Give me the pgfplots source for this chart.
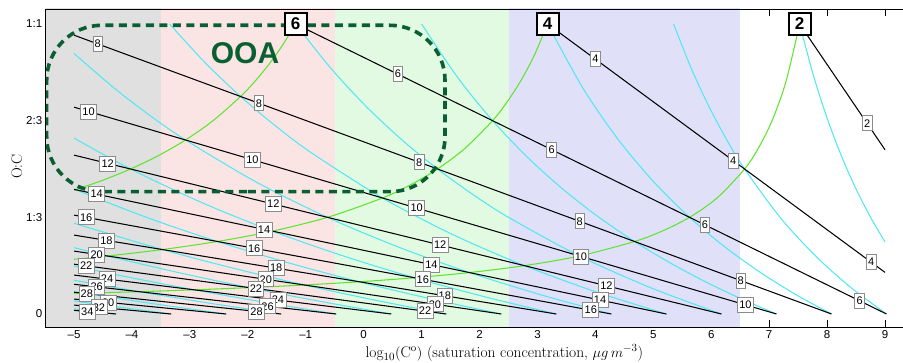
\documentclass[border=0pt]{standalone}
\usepackage{pgfplots}
\pgfplotsset{compat=1.18}
\usepackage{fontspec}
\newfontfamily\helv{Liberation Sans}
\definecolor{bgray}{RGB}{224,224,224}
\definecolor{bpink}{RGB}{250,228,228}
\definecolor{bgreen}{RGB}{226,250,226}
\definecolor{bblue}{RGB}{224,224,248}
\definecolor{cyanl}{RGB}{80,232,242}
\definecolor{greenl}{RGB}{95,228,45}
\definecolor{ooa}{RGB}{10,95,50}
\begin{document}
\begin{tikzpicture}
\begin{axis}[
  at={(0,0)}, anchor=south west,
  scale only axis, width=857.3pt, height=318.3pt,
  xmin=-5.489, xmax=9.31, ymin=-0.0459, ymax=1.0517,
  axis line style={draw=none},
  xtick={-5,-4,-3,-2,-1,0,1,2,3,4,5,6,7,8,9},
  xticklabels={–5,–4,–3,–2,–1,0,1,2,3,4,5,6,7,8,9},
  ytick={0,0.33333,0.66667,1},
  yticklabels={0,1:3,2:3,1:1},
  xtick pos=both, ytick pos=left,
  tick align=inside,
  major tick length=7pt,
  tick style={black, line width=0.8pt},
  ticklabel style={font=\helv\fontsize{11.5}{13}\selectfont},
  xlabel={$\log_{10}(\mathrm{C}^{\mathrm{o}})$ (saturation concentration, $\mu g\, m^{-3}$)},
  xlabel style={at={(axis description cs:0.535,-0.0933)}, anchor=base, font=\fontsize{15.5}{18}\selectfont},
  ylabel={O:C},
  ylabel style={at={(axis description cs:-0.0338,0.505)}, anchor=center, font=\fontsize{15}{18}\selectfont},
]
% background bands
\addplot[fill=bgray, draw=none] coordinates {(-6,-0.1) (-3.5,-0.1) (-3.5,1.1) (-6,1.1)} -- cycle;
\addplot[fill=bpink, draw=none] coordinates {(-3.5,-0.1) (-0.5,-0.1) (-0.5,1.1) (-3.5,1.1)} -- cycle;
\addplot[fill=bgreen, draw=none] coordinates {(-0.5,-0.1) (2.5,-0.1) (2.5,1.1) (-0.5,1.1)} -- cycle;
\addplot[fill=bblue, draw=none] coordinates {(2.5,-0.1) (6.5,-0.1) (6.5,1.1) (2.5,1.1)} -- cycle;

% cyan: constant nC+nO
\pgfplotsset{cy/.style={cyanl, line width=1.05pt, smooth}}
\addplot[cy] coordinates {(7.525,1) (7.77,0.8182) (8.015,0.6667) (8.26,0.5385) (8.505,0.4286) (8.75,0.3333) (9.0,0.2484)};
\addplot[cy] coordinates {(5.35,1) (5.656,0.8462) (5.963,0.7143) (6.269,0.6) (6.575,0.5) (7.188,0.3333) (7.8,0.2) (8.413,0.0909) (9.025,0)};
\addplot[cy] coordinates {(3.175,1) (3.7875,0.7778) (4.4,0.6) (5.0125,0.4545) (5.625,0.3333) (6.2375,0.2308) (6.85,0.1429) (7.4625,0.0667) (8.075,0)};
\addplot[cy] coordinates {(1.0,1) (1.6125,0.8182) (2.225,0.6667) (2.8375,0.5385) (3.45,0.4286) (4.0625,0.3333) (4.675,0.25) (5.2875,0.1765) (5.9,0.1111) (6.5125,0.0526) (7.125,0)};
\addplot[cy] coordinates {(-1.175,1) (-0.5625,0.8462) (0.05,0.7143) (0.6625,0.6) (1.275,0.5) (1.8875,0.4118) (2.5,0.3333) (3.725,0.2) (4.95,0.0909) (6.175,0)};
\addplot[cy] coordinates {(-3.35,1) (-2.7375,0.8667) (-2.125,0.75) (-1.5125,0.6471) (-0.9,0.5556) (0.325,0.4) (1.55,0.2727) (2.775,0.1667) (4.0,0.0769) (5.225,0)};
\addplot[cy] coordinates {(-5,0.8983) (-4.3,0.7778) (-3.6875,0.6842) (-3.075,0.6) (-1.85,0.4545) (-0.625,0.3333) (0.6,0.2308) (1.825,0.1429) (3.05,0.0667) (4.275,0)};
\addplot[cy] coordinates {(-5,0.6066) (-4.025,0.5) (-2.8,0.3846) (-1.575,0.2857) (-0.35,0.2) (0.875,0.125) (2.1,0.0588) (3.325,0)};
\addplot[cy] coordinates {(-5,0.4306) (-3.75,0.3333) (-2.525,0.25) (-1.3,0.1765) (-0.075,0.1111) (1.15,0.0526) (2.375,0)};
\addplot[cy] coordinates {(-5,0.3130) (-3.475,0.2222) (-2.25,0.1579) (-1.025,0.1) (0.2,0.0476) (1.425,0)};
\addplot[cy] coordinates {(-5,0.2288) (-4.425,0.2) (-3.2,0.1429) (-1.975,0.0909) (-0.75,0.0435) (0.475,0)};
\addplot[cy] coordinates {(-5,0.1656) (-4.15,0.1304) (-2.925,0.0833) (-1.7,0.04) (-0.475,0)};
\addplot[cy] coordinates {(-5,0.1163) (-3.875,0.0769) (-2.65,0.0370) (-1.425,0)};
\addplot[cy] coordinates {(-5,0.0769) (-4.825,0.0714) (-3.6,0.0345) (-2.375,0)};
\addplot[cy] coordinates {(-5,0.0446) (-4.55,0.0323) (-3.325,0)};
\addplot[cy] coordinates {(-5,0.0177) (-4.642,0.0089) (-4.275,0)};

% green: constant nO
\pgfplotsset{gr/.style={greenl, line width=1.05pt, smooth}}
\addplot[gr] coordinates {(7.525,1) (7.2875,0.8) (7.05,0.6667) (6.8125,0.5714) (6.575,0.5) (6.1,0.4) (5.625,0.3333) (5.15,0.2857) (4.675,0.25) (3.725,0.2) (2.775,0.1667) (1.825,0.1429) (0.875,0.125) (-0.075,0.1111) (-1.025,0.1) (-1.975,0.0909) (-2.925,0.0833) (-3.875,0.0769) (-5,0.0705)};
\addplot[gr] coordinates {(3.175,1) (2.9375,0.8889) (2.7,0.8) (2.4625,0.7273) (2.225,0.6667) (1.75,0.5714) (1.275,0.5) (0.8,0.4444) (0.325,0.4) (-0.625,0.3333) (-1.575,0.2857) (-2.525,0.25) (-3.475,0.2222) (-4.425,0.2) (-5,0.1886)};
\addplot[gr] coordinates {(-1.175,1) (-1.4125,0.9231) (-1.65,0.8571) (-1.8875,0.8) (-2.125,0.75) (-2.6,0.6667) (-3.075,0.6) (-3.55,0.5455) (-4.025,0.5) (-4.5,0.4615) (-5,0.4270)};

% black: constant nC
\pgfplotsset{bk/.style={black, line width=1.05pt}}
\addplot[bk] coordinates {(7.525,1) (9,0.5662)};
\addplot[bk] coordinates {(3.175,1) (9,0.1434)};
\addplot[bk] coordinates {(-1.175,1) (9.025,0)};
\addplot[bk] coordinates {(-5,0.9614) (8.075,0)};
\addplot[bk] coordinates {(-5,0.7132) (7.125,0)};
\addplot[bk] coordinates {(-5,0.5478) (6.175,0)};
\addplot[bk] coordinates {(-5,0.4296) (5.225,0)};
\addplot[bk] coordinates {(-5,0.3410) (4.275,0)};
\addplot[bk] coordinates {(-5,0.2721) (3.325,0)};
\addplot[bk] coordinates {(-5,0.2169) (2.375,0)};
\addplot[bk] coordinates {(-5,0.1718) (1.425,0)};
\addplot[bk] coordinates {(-5,0.1342) (0.475,0)};
\addplot[bk] coordinates {(-5,0.1024) (-0.475,0)};
\addplot[bk] coordinates {(-5,0.0751) (-1.425,0)};
\addplot[bk] coordinates {(-5,0.0515) (-2.375,0)};
\addplot[bk] coordinates {(-5,0.0308) (-3.325,0)};
\addplot[bk] coordinates {(-5,0.0125) (-4.275,0)};

% OOA region
\addplot[ooa, line width=3.6pt, dash pattern=on 8pt off 5.5pt, rounded corners=55pt] coordinates {(-2,0.4217) (1.404,0.4217) (1.404,0.9955) (-5.472,0.9955) (-5.472,0.4217) (-1.9,0.4217)};
\node[font=\helv\bfseries\fontsize{30}{30}\selectfont, text=ooa] at (axis cs:-2.048,0.898) {OOA};

% small labels
\addplot[draw=none, mark=none, nodes near coords, point meta=explicit symbolic,
  nodes near coords style={anchor=center, text=black, draw=black!45, line width=0.7pt, fill=white,
    font=\helv\fontsize{11}{12}\selectfont, inner xsep=1.8pt, inner ysep=0pt, minimum height=15pt}]
 table[meta=l] {
x y l
-4.59 0.9312 8
-4.75 0.6985 10
-4.42 0.5194 12
-4.61 0.4132 14
-4.79 0.3333 16
-4.44 0.2538 18
-4.61 0.2054 20
-4.79 0.1662 22
-4.43 0.1202 24
-4.61 0.0936 26
-4.78 0.0705 28
-4.41 0.0399 30
-4.57 0.0229 32
-4.77 0.0086 34
-1.81 0.7268 8
-1.92 0.5321 10
-1.56 0.3792 12
-1.72 0.2918 14
-1.89 0.2266 16
-1.51 0.1580 18
-1.69 0.1196 20
-1.86 0.0878 22
-1.48 0.0479 24
-1.66 0.0268 26
-1.85 0.0089 28
0.59 0.8272 6
0.96 0.5232 8
0.915 0.3653 10
1.32 0.2380 12
1.17 0.1704 14
1.02 0.1197 16
1.40 0.0629 18
1.23 0.0337 20
1.06 0.0098 22
4.0 0.8787 4
3.245 0.5667 6
3.73 0.3195 8
3.75 0.1985 10
4.19 0.0973 12
4.08 0.0481 14
3.92 0.0131 16
6.38 0.5287 4
5.89 0.3074 6
6.51 0.1151 8
6.59 0.0315 10
8.69 0.6574 2
8.76 0.1787 4
8.56 0.0456 6
};

% big labels
\addplot[draw=none, mark=none, nodes near coords, point meta=explicit symbolic,
  nodes near coords style={anchor=center, text=black, draw=black, line width=2.2pt, fill=white,
    font=\helv\bfseries\fontsize{17}{18}\selectfont, inner sep=0pt, minimum width=22pt, minimum height=22pt}]
 table[meta=l] {
x y l
-1.175 1 6
3.175 1 4
7.525 1 2
};
\end{axis}
\draw[black, line width=0.8pt] (857.3pt,318.3pt) -- (0pt,318.3pt) -- (0pt,0pt) -- (857.3pt,0pt);
\pgfresetboundingbox
\path (-45.7pt,-34.7pt) rectangle (857.3pt,327.3pt);
\end{tikzpicture}
\end{document}
